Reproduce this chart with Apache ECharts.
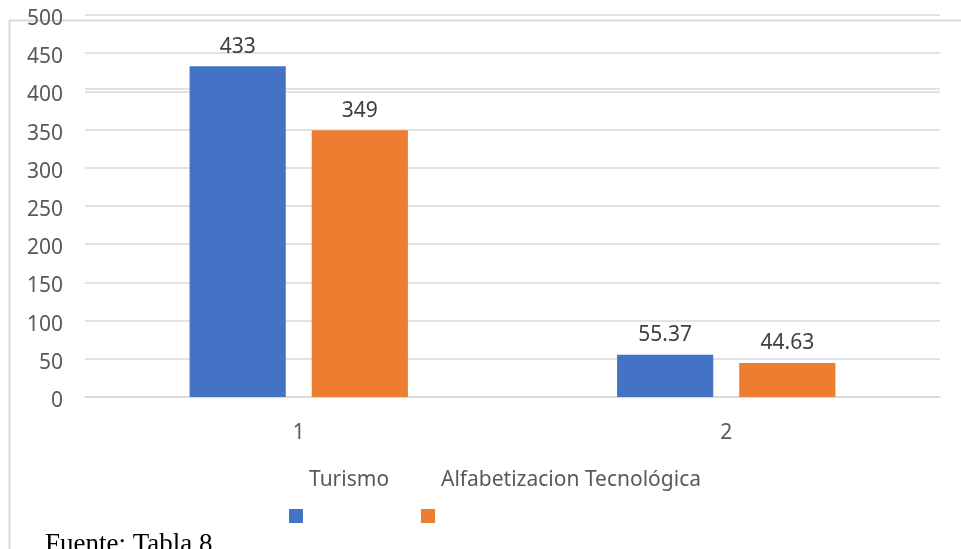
<!DOCTYPE html>
<html><head><meta charset="utf-8">
<script src="https://cdn.jsdelivr.net/npm/echarts@6/dist/echarts.min.js"></script>
<style>html,body{margin:0;padding:0;background:#fff}#c{width:961px;height:549px}</style>
</head><body><div id="c"></div>
<script>
const categories = ['1', '2'];
const seriesNames = ['Turismo', 'Alfabetizacion Tecnológica'];
const turismo = [433, 55.37];
const alfabetizacion = [349, 44.63];
const yTicks = [0, 50, 100, 150, 200, 250, 300, 350, 400, 450, 500];
const colors = ['#4472C4', '#ED7D31'];
const font = 'Noto Sans';
const fs = 21;

const chart = echarts.init(document.getElementById('c'));
chart.setOption({
  animation: false,
  backgroundColor: '#fff',
  grid: {left: 85, right: 21, top: 15, bottom: 152},
  xAxis: {
    type: 'category', data: categories,
    axisLine: {lineStyle: {color: '#d9d9d9', width: 1.5}},
    axisTick: {show: false},
    axisLabel: {color: '#595959', fontFamily: font, fontSize: fs, margin: 26}
  },
  yAxis: {
    type: 'value', min: yTicks[0], max: yTicks[yTicks.length - 1], interval: 50,
    axisLine: {show: false}, axisTick: {show: false},
    axisLabel: {color: '#595959', fontFamily: font, fontSize: fs, margin: 22,
      verticalAlign: 'top', lineHeight: 8,
      formatter: v => yTicks.includes(v) ? String(v) : ''},
    splitLine: {lineStyle: {color: '#d9d9d9', width: 1.5}}
  },
  legend: {show: false},
  series: [
    {name: seriesNames[0], type: 'bar', data: turismo, barWidth: '22.5%', barGap: '27%',
     itemStyle: {color: colors[0]},
     label: {show: true, position: 'top', distance: 9, color: '#404040', fontFamily: font, fontSize: fs},
     markLine: {silent: true, z: 1, symbol: 'none', label: {show: false},
       lineStyle: {color: '#d9d9d9', width: 1.5, type: 'solid'}, data: [{yAxis: 404}]}},
    {name: seriesNames[1], type: 'bar', data: alfabetizacion, barWidth: '22.5%', barGap: '27%',
     itemStyle: {color: colors[1]},
     label: {show: true, position: 'top', distance: 9, color: '#404040', fontFamily: font, fontSize: fs}}
  ],
  graphic: [
    {type: 'polyline', silent: true, z: -1,
     shape: {points: [[9.5, 560], [9.5, 20.5], [970, 20.5]]},
     style: {stroke: '#d9d9d9', lineWidth: 2, fill: null}},
    {type: 'text', left: 309, top: 470, style: {text: seriesNames[0], fill: '#595959', font: fs + 'px "Noto Sans"'}},
    {type: 'text', left: 441, top: 470, style: {text: seriesNames[1], fill: '#595959', font: fs + 'px "Noto Sans"'}},
    {type: 'rect', shape: {x: 289, y: 509, width: 14, height: 14}, style: {fill: colors[0]}},
    {type: 'rect', shape: {x: 421, y: 509, width: 14, height: 14}, style: {fill: colors[1]}},
    {type: 'text', left: 45, top: 531, style: {text: 'Fuente: Tabla 8', fill: '#000', font: '27px "Liberation Serif"'}}
  ]
});
</script></body></html>
